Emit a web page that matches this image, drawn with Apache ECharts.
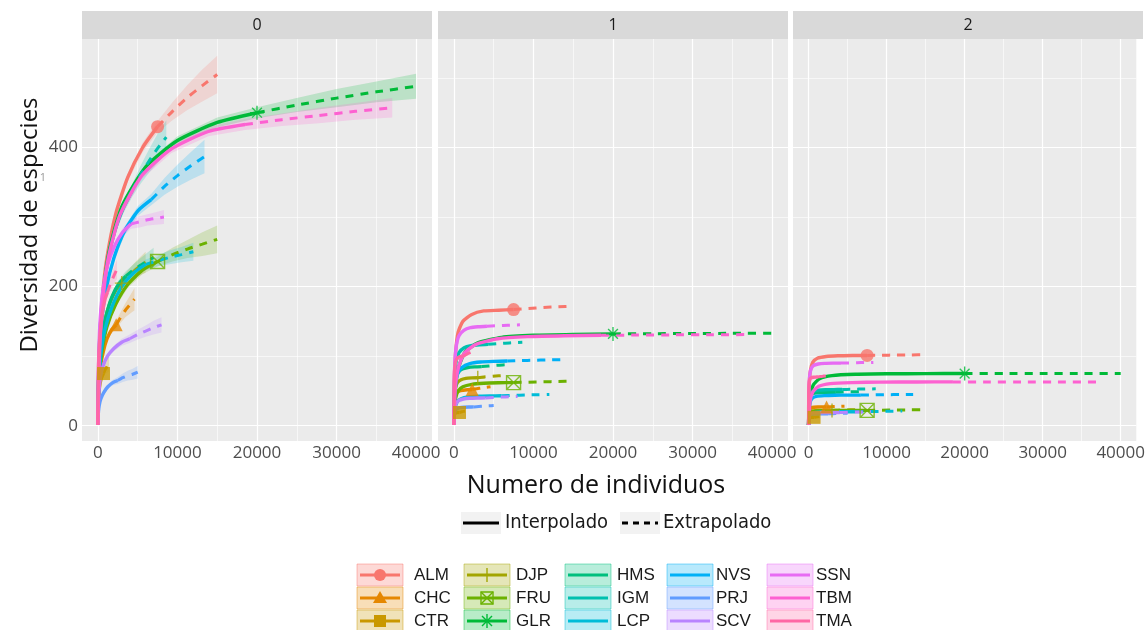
<!DOCTYPE html>
<html><head><meta charset="utf-8">
<script src="https://cdn.jsdelivr.net/npm/echarts@6/dist/echarts.min.js"></script>
<style>html,body{margin:0;padding:0;background:#fff}#c{width:1148px;height:630px}</style>
</head><body><div id="c"></div>
<script>
// ---------------- DATA ----------------
const sites = ['ALM','CHC','CTR','DJP','FRU','GLR','HMS','IGM','LCP','NVS','PRJ','SCV','SSN','TBM','TMA'];
const colors = ['#F8766D','#E58700','#C99800','#A3A500','#6BB100','#00BA38','#00BF7D','#00C0AF','#00BCD8','#00B0F6','#619CFF','#B983FF','#E76BF3','#FD61D1','#FF67A4'];
const shapes = ['circle','triangle','rect','plus','boxx','asterisk',null,null,null,null,null,null,null,null,null];
const facets = ['0','1','2'];
const xTicks = [0,10000,20000,30000,40000];
const xMinor = [5000,15000,25000,35000];
const yTicks = [0,200,400];
const yMinor = [100,300,500];
const refIndex = 8; // observed sample: end of interpolation, start of extrapolation

// number of individuals (m) per site
const sampleSizes = [
  [1,75,225,525,1125,2250,3750,5625,7500,9375,11250,13125,15000],
  [1,23,69,161,345,690,1150,1725,2300,2875,3450,4025,4600],
  [1,7,21,49,105,210,350,525,700,875,1050,1225,1400],
  [1,30,90,210,450,900,1500,2250,3000,3750,4500,5250,6000],
  [1,75,225,525,1125,2250,3750,5625,7500,9375,11250,13125,15000],
  [1,200,600,1400,3000,6000,10000,15000,20000,25000,30000,35000,40000],
  [1,35,105,245,525,1050,1750,2625,3500,4375,5250,6125,7000],
  [1,43,129,301,645,1290,2150,3225,4300,5375,6450,7525,8600],
  [1,60,180,420,900,1800,3000,4500,6000,7500,9000,10500,12000],
  [1,67,201,469,1005,2010,3350,5025,6700,8375,10050,11725,13400],
  [1,25,75,175,375,750,1250,1875,2500,3125,3750,4375,5000],
  [1,40,120,280,600,1200,2000,3000,4000,5000,6000,7000,8000],
  [1,42,125,290,620,1245,2075,3110,4150,5190,6225,7260,8300],
  [1,185,555,1295,2775,5550,9250,13875,18500,23125,27750,32375,37000],
  [1,12,36,84,180,360,600,900,1200,1500,1800,2100,2400]
];
// q = 0 (species richness)
const q0 = [
  [1,65,120,181,241,305,357,400,430,452,472,489,505],
  [1,26,46,67,87,107,125,138,145,156,166,174,182],
  [1,14,24,35,45,56,65,71,75,80,83,87,90],
  [1,37,66,94,123,152,176,195,205,214,222,229,235],
  [1,42,76,109,142,175,203,224,236,246,254,261,268],
  [1,105,180,250,315,372,410,436,450,461,471,480,488],
  [1,39,69,99,129,159,185,204,215,223,230,236,242],
  [1,51,95,142,189,240,281,314,338,361,381,399,415],
  [1,42,74,107,139,172,200,220,232,237,242,246,250],
  [1,59,104,150,195,241,280,309,325,344,360,374,387],
  [1,12,21,30,39,48,56,62,65,69,72,74,77],
  [1,28,48,66,84,100,111,120,125,131,136,141,145],
  [1,64,110,154,194,232,258,278,290,293,296,298,300],
  [1,100,172,240,303,360,398,423,433,440,446,452,457],
  [1,35,61,88,115,142,165,182,192,202,210,218,225]
];
// half width of the 95% confidence band, q = 0
const ci0 = [
  [0,1,2,3,4,5,6,7,8,13,18,23,27],
  [0,1,2,2,3,3,4,5,6,8,10,13,16],
  [0,1,1,2,2,3,3,4,5,6,8,10,12],
  [0,1,2,2,3,4,5,6,7,9,11,13,15],
  [0,1,2,3,3,4,5,6,7,10,13,17,20],
  [0,1,2,3,4,5,6,7,8,10,13,15,18],
  [0,1,2,2,3,4,5,6,7,8,10,12,14],
  [0,1,2,3,4,5,6,8,9,13,17,21,24],
  [0,1,2,2,3,4,5,6,7,8,10,11,13],
  [0,1,2,3,4,5,6,7,8,12,16,20,24],
  [0,1,1,2,2,3,3,4,5,6,7,8,9],
  [0,1,2,2,3,3,4,5,6,7,8,10,11],
  [0,1,2,3,4,5,5,6,7,8,8,9,10],
  [0,1,2,3,4,5,6,7,8,9,11,12,14],
  [0,1,2,3,3,4,5,6,7,9,11,12,14]
];
// q = 1 (Shannon diversity)
const q1 = [
  [1,70,107,134,150,160,165,166,167,168.5,170,171,172],
  [1,22,33,42,47,50,51,51.7,52,53.2,54.2,55.2,56],
  [1,8,12,15,17,18.2,18.7,18.9,19,19.6,20.1,20.6,21],
  [1,29,44,55,62,66,68,68.7,69,70,70.7,71.4,72],
  [1,26,40,50,56,59.5,61,61.7,62,62.6,63.1,63.6,64],
  [1,55,84,106,119,127,130,131.3,132,132.3,132.6,132.8,133],
  [1,36,54,68,76.5,81.6,83.7,84.6,85,85.9,86.7,87.4,88],
  [1,49,75,94,105,112,115,116.4,117,118,118.7,119.4,120],
  [1,18,27.5,34.4,38.7,41.3,42.4,42.8,43,43.6,44.1,44.6,45],
  [1,39,59.5,74.4,83.7,89.3,91.6,92.5,93,93.6,94.1,94.6,95],
  [1,11.3,17.3,21.6,24.3,25.9,26.6,26.9,27,27.6,28.1,28.6,29],
  [1,16.8,25.6,32,36,38.4,39.4,39.8,40,40.6,41.1,41.6,42],
  [1,60,91.5,114,129,137,141,142.3,143,143.6,144.1,144.6,145],
  [1,55,83,104,117,125,128,129.4,130,130.3,130.6,130.8,131],
  [1,42,64,80,90,96,98.5,99.5,100,102,104,105.5,107]
];
// q = 2 (Simpson diversity)
const q2 = [
  [1,55.5,79,91,97,99.5,100.5,100.9,101,101.3,101.6,101.8,102],
  [1,14.9,21,24.3,25.9,26.6,26.9,27,27,27.3,27.6,27.8,28],
  [1,6.6,9.4,10.8,11.5,11.8,11.9,12,12,12.3,12.6,12.8,13],
  [1,12.1,17.2,19.8,21.1,21.7,21.9,22,22,22.3,22.6,22.8,23],
  [1,12.1,17.2,19.8,21.1,21.7,21.9,22,22,22.3,22.6,22.8,23],
  [1,41,58.5,67.5,72,73.9,74.6,74.9,75,75,75,75,75],
  [1,26.4,37.4,43.2,46.1,47.3,47.8,48,48,48.3,48.6,48.8,49],
  [1,28.6,40.6,46.8,49.9,51.2,51.7,51.9,52,52.3,52.6,52.8,53],
  [1,11,15.6,18,19.2,19.7,19.9,20,20,20.3,20.6,20.8,21],
  [1,24.2,34.3,39.6,42.2,43.3,43.8,44,44,44.3,44.6,44.8,45],
  [1,9.4,13.3,15.3,16.3,16.7,16.9,17,17,17.3,17.6,17.8,18],
  [1,10.5,14.8,17.1,18.2,18.7,18.9,19,19,19.3,19.6,19.8,20],
  [1,49.5,70.2,81,86.4,88.7,89.6,89.9,90,90.3,90.6,90.8,91],
  [1,34.7,49.1,56.7,60.5,62,62.7,62.9,63,63,63,63,63],
  [1,38.5,54.6,63,67.2,69,69.7,69.9,70,70.6,71.1,71.6,72]
];
const qData = [q0, q1, q2];

// ---------------- CHART ----------------
const grids = [
  {left:82, top:39, width:350, height:402},
  {left:438, top:39, width:350, height:402},
  {left:793, top:39, width:350, height:402}
];
function rgba(hex, a){
  const n = parseInt(hex.slice(1),16);
  return 'rgba(' + ((n>>16)&255) + ',' + ((n>>8)&255) + ',' + (n&255) + ',' + a + ')';
}
const symbolPaths = {
  circle:'circle', triangle:'triangle', rect:'rect',
  plus:'path://M5,0L5,10M0,5L10,5',
  boxx:'path://M0,0L10,0L10,10L0,10ZM0,0L10,10M10,0L0,10',
  asterisk:'path://M5,0L5,10M0,5L10,5M1.5,1.5L8.5,8.5M8.5,1.5L1.5,8.5'
};
const labelFont = '"Open Sans", "DejaVu Sans", sans-serif';

const xAxes = [], yAxes = [], series = [];
grids.forEach((gr, g) => {
  xAxes.push({
    type:'value', gridIndex:g, min:-2000, max:42000,
    axisLine:{show:false}, splitLine:{show:false},
    axisTick:{show:true, length:4, customValues:xTicks, lineStyle:{color:'#333', width:1}},
    axisLabel:{show:true, customValues:xTicks, formatter: v => String(v), color:'#4D4D4D', fontSize:17, fontFamily:labelFont, margin:4}
  });
  yAxes.push({
    type:'value', gridIndex:g, min:-22, max:556, show: g===0,
    axisLine:{show:false}, splitLine:{show:false},
    axisTick:{show:g===0, length:4, customValues:yTicks, lineStyle:{color:'#333', width:1}},
    axisLabel:{show:g===0, customValues:yTicks, formatter: v => String(v), color:'#4D4D4D', fontSize:17, fontFamily:labelFont, margin:4}
  });
  const ml = [];
  xMinor.forEach(v => ml.push({xAxis:v, lineStyle:{color:'#FFFFFF', width:0.6, type:'solid'}}));
  yMinor.forEach(v => ml.push({yAxis:v, lineStyle:{color:'#FFFFFF', width:0.6, type:'solid'}}));
  xTicks.forEach(v => ml.push({xAxis:v, lineStyle:{color:'#FFFFFF', width:1.2, type:'solid'}}));
  yTicks.forEach(v => ml.push({yAxis:v, lineStyle:{color:'#FFFFFF', width:1.2, type:'solid'}}));
  series.push({
    type:'line', xAxisIndex:g, yAxisIndex:g, data:[[-2000,-22]], showSymbol:false, silent:true, z:1,
    lineStyle:{width:0},
    markLine:{z:1, silent:true, animation:false, symbol:['none','none'], label:{show:false}, data:ml}
  });
  const qq = qData[g];
  if (g === 0) {
    series.push({
      type:'custom', xAxisIndex:g, yAxisIndex:g, silent:true, z:2,
      data: sites.map((s,i) => [i]),
      renderItem: (params, api) => {
        const i = api.value(0);
        const pts = [];
        for (let k = 0; k < sampleSizes[i].length; k++) pts.push(api.coord([sampleSizes[i][k], qq[i][k] + ci0[i][k]]));
        for (let k = sampleSizes[i].length - 1; k >= 0; k--) pts.push(api.coord([sampleSizes[i][k], qq[i][k] - ci0[i][k]]));
        return {type:'polygon', shape:{points:pts}, style:{fill:rgba(colors[i],0.2)}};
      }
    });
  }
  sites.forEach((s, i) => {
    const xs = sampleSizes[i], ys = qq[i];
    const interp = [], extrap = [];
    for (let k = 0; k <= refIndex; k++) interp.push([xs[k], ys[k]]);
    for (let k = refIndex; k < xs.length; k++) extrap.push([xs[k], ys[k]]);
    series.push({type:'line', name:s, xAxisIndex:g, yAxisIndex:g, data:interp, showSymbol:false, smooth:0.2,
      lineStyle:{color:colors[i], width:3.4}, z:3, silent:true});
    series.push({type:'line', name:s, xAxisIndex:g, yAxisIndex:g, data:extrap, showSymbol:false, smooth:0.2,
      lineStyle:{color:colors[i], width:3, type:[8,7]}, z:3, silent:true});
    if (shapes[i]) {
      const filled = ['circle','triangle','rect'].indexOf(shapes[i]) >= 0;
      series.push({type:'scatter', xAxisIndex:g, yAxisIndex:g, data:[[xs[refIndex], ys[refIndex]]], z:4, silent:true,
        symbol:symbolPaths[shapes[i]], symbolSize: filled ? 13 : 14,
        itemStyle: filled ? {color:colors[i]} : {color:'rgba(0,0,0,0)', borderColor:colors[i], borderWidth:1.4}});
    }
  });
});

// ---------------- GRAPHICS (strips, titles, legends) ----------------
const graphics = [];
function txt(x, y, t, font, fill, align, valign, rot){
  const o = {type:'text', x:x, y:y, silent:true, style:{text:t, font:font, fill:fill, align:align, verticalAlign:valign, textAlign:align, textVerticalAlign:valign}};
  if (rot) o.rotation = rot;
  return o;
}
function seg(x1, y1, x2, y2, c, w){
  return {type:'line', silent:true, shape:{x1:x1, y1:y1, x2:x2, y2:y2}, style:{stroke:c, lineWidth:w}};
}
grids.forEach((gr, g) => {
  graphics.push({type:'rect', silent:true, shape:{x:gr.left, y:11, width:gr.width, height:28}, style:{fill:'#D9D9D9'}});
  graphics.push(txt(gr.left + gr.width/2, 25.5, facets[g], '16px ' + labelFont, '#1A1A1A', 'center', 'middle'));
});
graphics.push(txt(30, 225, 'Diversidad de especies', '24px ' + labelFont, '#111', 'center', 'middle', Math.PI/2));
graphics.push(txt(43, 178, '1', '11px ' + labelFont, '#999', 'center', 'middle'));
graphics.push(txt(596, 486, 'Numero de individuos', '25px ' + labelFont, '#111', 'center', 'middle'));
// linetype legend
const ltFont = '20px "DejaVu Sans Condensed", "DejaVu Sans", sans-serif';
graphics.push({type:'rect', silent:true, shape:{x:461, y:512, width:40, height:22}, style:{fill:'#F2F2F2'}});
graphics.push(seg(463, 523, 499, 523, '#000', 3));
graphics.push(txt(505, 523, 'Interpolado', ltFont, '#1A1A1A', 'left', 'middle'));
graphics.push({type:'rect', silent:true, shape:{x:620, y:512, width:40, height:22}, style:{fill:'#F2F2F2'}});
graphics.push({type:'line', silent:true, shape:{x1:622, y1:523, x2:658, y2:523}, style:{stroke:'#000', lineWidth:3, lineDash:[6,5]}});
graphics.push(txt(663, 523, 'Extrapolado', ltFont, '#1A1A1A', 'left', 'middle'));
// colour legend
const keyX = [357, 464, 565, 667, 767];
const textX = [414, 516, 617, 716, 816];
sites.forEach((s, i) => {
  const col = Math.floor(i/3), row = i % 3;
  const kx = keyX[col], ky = 564 + row*23, cx = kx + 23, cy = ky + 11;
  const c = colors[i];
  graphics.push({type:'rect', silent:true, shape:{x:kx, y:ky, width:46, height:22}, style:{fill:rgba(c,0.28), stroke:rgba(c,0.45), lineWidth:1}});
  graphics.push(seg(kx+3, cy, kx+43, cy, c, 3));
  const sh = shapes[i];
  if (sh === 'circle') graphics.push({type:'circle', silent:true, shape:{cx:cx, cy:cy, r:6}, style:{fill:c}});
  if (sh === 'triangle') graphics.push({type:'polygon', silent:true, shape:{points:[[cx,cy-7],[cx+7,cy+5],[cx-7,cy+5]]}, style:{fill:c}});
  if (sh === 'rect') graphics.push({type:'rect', silent:true, shape:{x:cx-6, y:cy-6, width:12, height:12}, style:{fill:c}});
  if (sh === 'plus' || sh === 'asterisk') {
    graphics.push(seg(cx, cy-7, cx, cy+7, c, 1.4));
    graphics.push(seg(cx-7, cy, cx+7, cy, c, 1.4));
  }
  if (sh === 'asterisk') {
    graphics.push(seg(cx-5, cy-5, cx+5, cy+5, c, 1.4));
    graphics.push(seg(cx+5, cy-5, cx-5, cy+5, c, 1.4));
  }
  if (sh === 'boxx') {
    graphics.push({type:'rect', silent:true, shape:{x:cx-6, y:cy-6, width:12, height:12}, style:{fill:'none', stroke:c, lineWidth:1.4}});
    graphics.push(seg(cx-6, cy-6, cx+6, cy+6, c, 1.4));
    graphics.push(seg(cx+6, cy-6, cx-6, cy+6, c, 1.4));
  }
  graphics.push(txt(textX[col], cy, s, '17px "Liberation Sans", Arial, sans-serif', '#1A1A1A', 'left', 'middle'));
});

const chart = echarts.init(document.getElementById('c'), null, {renderer:'canvas'});
chart.setOption({
  animation:false,
  backgroundColor:'#FFFFFF',
  grid: grids.map(g => Object.assign({show:true, backgroundColor:'#EBEBEB', borderWidth:0, containLabel:false}, g)),
  xAxis: xAxes,
  yAxis: yAxes,
  series: series,
  graphic: {elements: graphics}
});
</script>
</body></html>
